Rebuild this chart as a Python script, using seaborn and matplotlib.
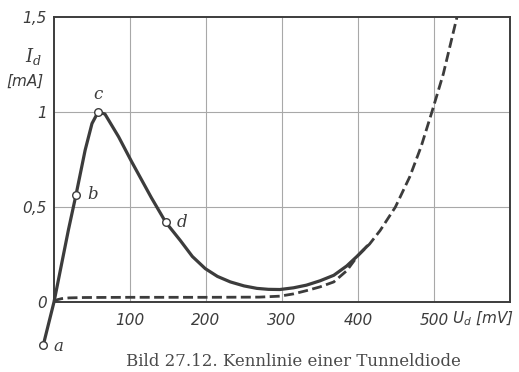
import matplotlib
matplotlib.use("Agg")
import matplotlib.pyplot as plt
import matplotlib.transforms as mtransforms
from matplotlib import font_manager
import pandas as pd
import seaborn as sns

# Tunnel diode characteristic (U in mV, I in mA)
u_tunnel = [-14, 0, 19, 29, 41, 50, 58, 67, 85, 102, 115, 128, 147, 166, 182,
            199, 215, 232, 250, 267, 282, 297, 315, 332, 350, 368, 385, 400, 412]
i_tunnel = [-0.225, 0.0, 0.38, 0.565, 0.80, 0.94, 1.0, 0.99, 0.87, 0.74, 0.645,
            0.55, 0.42, 0.325, 0.24, 0.176, 0.135, 0.106, 0.085, 0.072, 0.067,
            0.066, 0.075, 0.089, 0.112, 0.141, 0.19, 0.246, 0.295]

# Ordinary diode characteristic (dashed)
u_diode = [0, 4, 10, 20, 40, 100, 200, 270, 297, 315, 332, 350, 368, 385, 400,
           415, 429, 449, 468, 483, 497, 512, 530]
i_diode = [0.0, 0.012, 0.018, 0.022, 0.024, 0.025, 0.025, 0.026, 0.031, 0.043,
           0.06, 0.08, 0.106, 0.165, 0.246, 0.305, 0.377, 0.50, 0.66, 0.82,
           1.0, 1.2, 1.5]

# Labelled operating points
point_names = ["a", "b", "c", "d"]
point_u = [-14, 29, 58, 147]
point_i = [-0.225, 0.565, 1.0, 0.42]

x_ticks = [100, 200, 300, 400, 500]
x_ticklabels = ["100", "200", "300", "400", "500"]
y_ticks = [0, 0.5, 1, 1.5]
y_ticklabels = ["0", "0,5", "1", "1,5"]

sns.set_theme(style="white")
ink = "#3c3c3c"
grid_c = "#a8a8a8"

installed = {f.name for f in font_manager.fontManager.ttflist}
if "Liberation Sans Narrow" in installed:
    label_font, label_size = "Liberation Sans Narrow", 13
else:
    label_font, label_size = "DejaVu Sans", 11

fig = plt.figure(figsize=(5.19, 3.72), dpi=100)
ax = fig.add_axes([0.104, 0.188, 0.879, 0.766])

df_t = pd.DataFrame({"U": u_tunnel, "I": i_tunnel})
df_d = pd.DataFrame({"U": u_diode, "I": i_diode})
df_p = pd.DataFrame({"U": point_u, "I": point_i, "name": point_names})

for gx in x_ticks:
    ax.axvline(gx, color=grid_c, lw=0.8, zorder=0)
for gy in [0.5, 1.0]:
    ax.axhline(gy, color=grid_c, lw=0.8, zorder=0)

sns.lineplot(data=df_d, x="U", y="I", sort=False, estimator=None, ax=ax,
             color=ink, lw=2.0, linestyle=(0, (3.6, 1.6)), zorder=3)
sns.lineplot(data=df_t, x="U", y="I", sort=False, estimator=None, ax=ax,
             color=ink, lw=2.3, zorder=4, clip_on=False)
sns.scatterplot(data=df_p, x="U", y="I", ax=ax, s=30, facecolor="white",
                edgecolor=ink, linewidth=1.0, zorder=5, clip_on=False)

label_offsets = {"a": (7, -1), "b": (8, 0), "c": (0, 13), "d": (8, 0)}
for name, u, i in zip(point_names, point_u, point_i):
    dx, dy = label_offsets[name]
    ax.annotate(name, (u, i), xytext=(dx, dy), textcoords="offset points",
                ha="center" if name == "c" else "left", va="center",
                fontsize=12, style="italic", family="DejaVu Serif",
                color=ink, annotation_clip=False)

ax.set_xlim(0, 600)
ax.set_ylim(0, 1.5)
ax.set_xticks(x_ticks)
ax.set_xticklabels(x_ticklabels)
ax.set_yticks(y_ticks)
ax.set_yticklabels(y_ticklabels)
ax.tick_params(length=0, colors=ink, labelsize=label_size)
ax.tick_params(axis="x", pad=8)
ax.tick_params(axis="y", pad=5)
for lab in ax.get_xticklabels() + ax.get_yticklabels():
    lab.set_family(label_font)
    lab.set_style("italic")
ax.set_xlabel("")
ax.set_ylabel("")

for sp in ax.spines.values():
    sp.set_color(ink)
    sp.set_linewidth(1.4)

# Axis titles
trans = mtransforms.blended_transform_factory(ax.transData, ax.transAxes)
ax.text(523, -0.058, r"$U_d$ [mV]", transform=trans, ha="left", va="center",
        fontsize=label_size, style="italic", color=ink,
        math_fontfamily="dejavusans", family=label_font)
fig.text(0.064, 0.848, r"$I_d$", ha="center", va="center", fontsize=13,
         color=ink, math_fontfamily="dejavuserif")
fig.text(0.048, 0.782, "[mA]", ha="center", va="center", fontsize=label_size,
         style="italic", color=ink, family=label_font)

fig.text(0.565, 0.028, "Bild 27.12. Kennlinie einer Tunneldiode",
         ha="center", va="center", fontsize=12, family="DejaVu Serif",
         color="#4a4a4a")

fig.savefig("out.png", dpi=100)
